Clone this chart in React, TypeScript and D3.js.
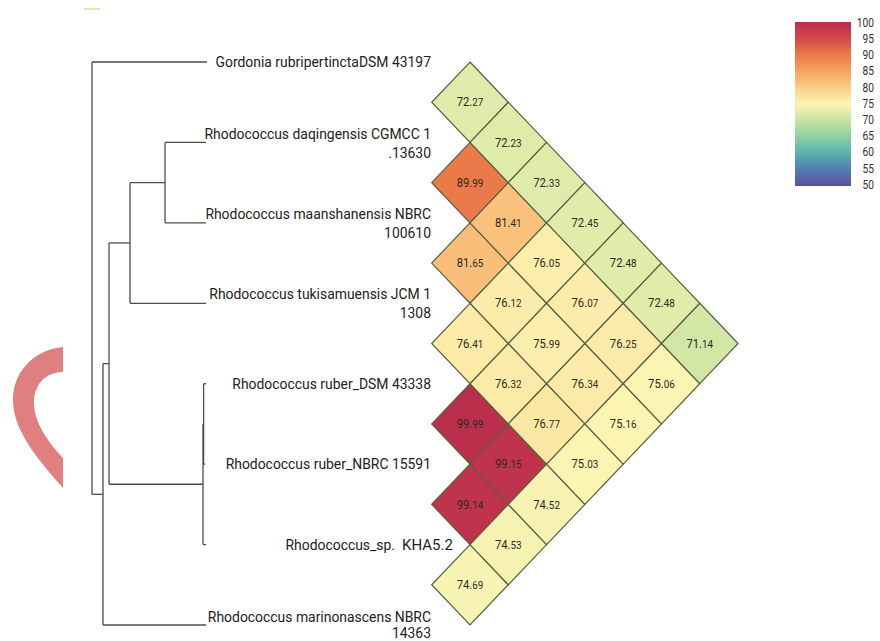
import React from "react";
import * as d3 from "d3";

// ---------- data ----------
const taxaLines: string[][] = [
  ["Gordonia rubripertinctaDSM 43197"],
  ["Rhodococcus daqingensis CGMCC 1", ".13630"],
  ["Rhodococcus maanshanensis NBRC", "100610"],
  ["Rhodococcus tukisamuensis JCM 1", "1308"],
  ["Rhodococcus ruber_DSM 43338"],
  ["Rhodococcus ruber_NBRC 15591"],
  ["Rhodococcus_sp.", "KHA5.2"],
  ["Rhodococcus marinonascens NBRC", "14363"],
];

// pairwise ANI values, by diagonal offset (k = j - i - 1), each listed from top pair down
const diag0 = [72.27, 89.99, 81.65, 76.41, 99.99, 99.14, 74.69];
const diag1 = [72.23, 81.41, 76.12, 76.32, 99.15, 74.53];
const diag2 = [72.33, 76.05, 75.99, 76.77, 74.52];
const diag3 = [72.45, 76.07, 76.34, 75.03];
const diag4 = [72.48, 76.25, 75.16];
const diag5 = [72.48, 75.06];
const diag6 = [71.14];
const diagonals = [diag0, diag1, diag2, diag3, diag4, diag5, diag6];

const legendTicks = [100, 95, 90, 85, 80, 75, 70, 65, 60, 55, 50];
const colorStops = [50, 55, 60, 65, 70, 75, 80, 85, 90, 95, 100];
const colorRange = [
  "#5b4f9f", "#4f7db2", "#5ab2ab", "#8ecfa5", "#c6e3a1", "#fbf5b4",
  "#fbcd88", "#f6a45e", "#ea7a4a", "#d3494a", "#bb2f4d",
];

type TreeNode = { leaf?: number; len: number; children?: TreeNode[] };
const tree: TreeNode = {
  len: 0,
  children: [
    { leaf: 0, len: 115 },
    {
      len: 11,
      children: [
        {
          len: 6,
          children: [
            {
              len: 21,
              children: [
                { len: 35, children: [{ leaf: 1, len: 41 }, { leaf: 2, len: 41 }] },
                { leaf: 3, len: 76 },
              ],
            },
            {
              len: 94,
              children: [
                { len: 0.6, children: [{ leaf: 4, len: 2.4 }, { leaf: 5, len: 1.6 }] },
                { leaf: 6, len: 3 },
              ],
            },
          ],
        },
        { leaf: 7, len: 103 },
      ],
    },
  ],
};

// ---------- layout ----------
const W = 880;
const H = 641;
const yTip = d3.scaleLinear().domain([0, 7]).range([62, 625]);
const xTree = d3.scaleLinear().domain([0, 114]).range([92, 206]);
const cellHW = 38.3;
const cellHH = (yTip(1) - yTip(0)) / 2;
const xCell = d3.scaleLinear().domain([0, 6]).range([470, 470 + 6 * cellHW]);
const color = d3.scaleLinear<string>().domain(colorStops).range(colorRange).interpolate(d3.interpolateRgb).clamp(true);
const yLegend = d3.scaleLinear().domain([100, 50]).range([23, 185]);

const FONT = "Roboto, 'DejaVu Sans', sans-serif";
const SX = 0.96;

export default function App() {
  const root = d3.hierarchy<TreeNode>(tree);
  const pos = new Map<any, { x: number; y: number }>();
  root.eachBefore((n) => {
    const px = n.parent ? (n.parent as any).__dx : 0;
    (n as any).__dx = px + n.data.len;
  });
  root.eachAfter((n) => {
    let y: number;
    if (n.data.leaf !== undefined) y = yTip(n.data.leaf);
    else {
      const ys = n.children!.map((c) => pos.get(c)!.y);
      y = (ys[0] + ys[ys.length - 1]) / 2;
    }
    pos.set(n, { x: xTree((n as any).__dx), y });
  });
  const segs: { x1: number; y1: number; x2: number; y2: number }[] = [];
  root.each((n) => {
    const p = pos.get(n)!;
    if (n.parent) {
      const pp = pos.get(n.parent)!;
      segs.push({ x1: pp.x, y1: p.y, x2: p.x, y2: p.y });
    }
    if (n.children) {
      const ys = n.children.map((c) => pos.get(c)!.y);
      segs.push({ x1: p.x, y1: Math.min(...ys), x2: p.x, y2: Math.max(...ys) });
    }
  });

  const cells: { k: number; i: number; v: number }[] = [];
  diagonals.forEach((arr, k) => arr.forEach((v, i) => cells.push({ k, i, v })));

  const labelEnd = 431;
  const sx = (x: number, s: number) => `translate(${x},0) scale(${s},1) translate(${-x},0)`;

  return (
    <svg width={W} height={H} style={{ position: "absolute", left: 0, top: 0, background: "#fff" }}>
      <defs>
        <linearGradient id="legendGrad" x1="0" y1="0" x2="0" y2="1">
          {legendTicks.map((t, i) => (
            <stop key={t} offset={i / (legendTicks.length - 1)} stopColor={color(t)} />
          ))}
        </linearGradient>
      </defs>
      <rect x={0} y={0} width={W} height={H} fill="#fff" />

      {/* decorative marks */}
      <line x1={84} y1={9} x2={100} y2={9} stroke="#e6d890" strokeWidth={2} opacity={0.7} />
      <path
        d="M63,347 C32,350 12,374 13,402 C14,432 40,462 63,488 L63,458 C46,440 33,420 34,400 C35,384 46,372 63,372 Z"
        fill="#df7f80"
      />

      {/* tree */}
      <g stroke="#4d4d4d" strokeWidth={1.3} fill="none">
        {segs.map((s, i) => (
          <line key={i} x1={s.x1} y1={s.y1} x2={s.x2} y2={s.y2} />
        ))}
      </g>

      {/* labels */}
      <g fontFamily={FONT} fill="#222" fontSize={14.5}>
        {taxaLines.map((lines, i) => {
          const y = yTip(i);
          if (i === 6) {
            return (
              <g key={i}>
                <text x={395} y={y} textAnchor="end" dominantBaseline="central" transform={sx(395, SX)}>
                  {lines[0]}
                </text>
                <text x={402} y={y} textAnchor="start" dominantBaseline="central" fontSize={15}>
                  {lines[1]}
                </text>
              </g>
            );
          }
          if (lines.length === 1) {
            return (
              <text key={i} x={labelEnd} y={y} textAnchor="end" dominantBaseline="central" transform={sx(labelEnd, SX)}>
                {lines[0]}
              </text>
            );
          }
          const last = i === taxaLines.length - 1;
          return (
            <g key={i} transform={sx(labelEnd, SX)}>
              <text x={labelEnd} y={y - (last ? 8 : 9)} textAnchor="end" dominantBaseline="central">{lines[0]}</text>
              <text x={labelEnd} y={y + (last ? 8 : 10)} textAnchor="end" dominantBaseline="central">{lines[1]}</text>
            </g>
          );
        })}
      </g>

      {/* heatmap diamonds */}
      <g>
        {cells.map(({ k, i, v }) => {
          const j = i + k + 1;
          const cy = (yTip(i) + yTip(j)) / 2;
          const cx = xCell(k);
          const d = `M${cx},${cy - cellHH} L${cx + cellHW},${cy} L${cx},${cy + cellHH} L${cx - cellHW},${cy} Z`;
          const [ip, fp] = v.toFixed(2).split(".");
          return (
            <g key={`${k}-${i}`}>
              <path d={d} fill={color(v)} stroke="#56603f" strokeWidth={1.2} strokeLinejoin="miter" />
              <text x={cx} y={cy} textAnchor="middle" dominantBaseline="central" fontFamily={FONT} fill="#2e2a22"
                transform={sx(cx, 0.9)}>
                <tspan fontSize={12.5}>{ip}.</tspan>
                <tspan fontSize={11}>{fp}</tspan>
              </text>
            </g>
          );
        })}
      </g>

      {/* legend */}
      <rect x={795} y={yLegend(100) - 1} width={56} height={yLegend(50) - yLegend(100) + 2} fill="url(#legendGrad)" />
      <g fontFamily={FONT} fontSize={12} fill="#333">
        {legendTicks.map((t) => (
          <text key={t} x={874} y={yLegend(t)} textAnchor="end" dominantBaseline="central" transform={sx(874, 0.85)}>
            {t}
          </text>
        ))}
      </g>
    </svg>
  );
}
